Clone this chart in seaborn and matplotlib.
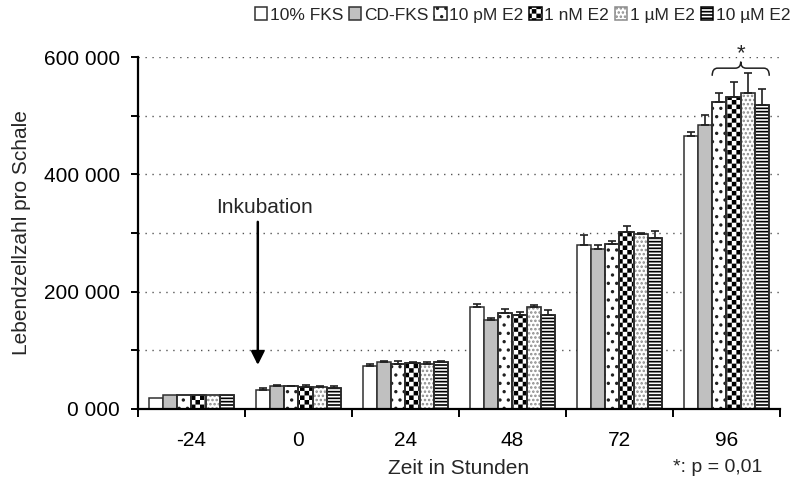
import numpy as np
import pandas as pd
import matplotlib
matplotlib.use("Agg")
import matplotlib.pyplot as plt
import matplotlib.hatch as mhatch
from matplotlib.path import Path
from matplotlib.patches import PathPatch, Rectangle
from matplotlib.ticker import FuncFormatter, MultipleLocator
import seaborn as sns

# ---- data -------------------------------------------------------------
zeiten = ["-24", "0", "24", "48", "72", "96"]
gruppen = ["10% FKS", "CD-FKS", "10 pM E2", "1 nM E2", "1 µM E2", "10 µM E2"]

fks_10 = [18000, 33000, 74000, 173000, 279000, 465000]
cd_fks = [24000, 39000, 80500, 152000, 273000, 484000]
e2_10pm = [24000, 38500, 77500, 164000, 281000, 523000]
e2_1nm = [24000, 37000, 78500, 161000, 301000, 531000]
e2_1um = [24000, 37000, 77500, 174000, 298000, 538000]
e2_10um = [24000, 35500, 79500, 160000, 291000, 518000]

err_fks_10 = [0, 3500, 2500, 6500, 18000, 7500]
err_cd_fks = [0, 2000, 1500, 2500, 7000, 17500]
err_e2_10pm = [0, 1500, 4000, 6000, 6000, 15000]
err_e2_1nm = [0, 4000, 2000, 4000, 11000, 26500]
err_e2_1um = [0, 2500, 2000, 4000, 2000, 34500]
err_e2_10um = [0, 4000, 2000, 8500, 12000, 27500]

werte = [fks_10, cd_fks, e2_10pm, e2_1nm, e2_1um, e2_10um]
fehler = [err_fks_10, err_cd_fks, err_e2_10pm, err_e2_1nm, err_e2_1um, err_e2_10um]

# significance bracket over the 96 h treatment bars
klammer_unten = 568000
klammer_oben = 581000
klammer_spitze = 592000
stern_hoehe = 606000

# ---- styling ------------------------------------------------------------
sns.set_theme(style="ticks")
plt.rcParams["font.family"] = ["Liberation Sans", "DejaVu Sans"]
plt.rcParams["hatch.linewidth"] = 1.2
FS = 15
FS_LEG = 12.5


class CheckerHatch(mhatch.HatchPatternBase):
    """Filled checkerboard hatch, selected by the 'O' hatch character."""

    def __init__(self, hatch, density):
        n = hatch.count("O")
        self.cells = 2 * int(round(1.8 * density)) * n
        self.num_vertices = (self.cells * self.cells // 2) * 5

    def set_vertices_and_codes(self, vertices, codes):
        c = self.cells
        step = 1.0 / c
        # shrink each square by half a hatch stroke width (tile = 100 px)
        lw_px = plt.rcParams["hatch.linewidth"] * 100 / 72
        s = (lw_px / 2) / 100
        k = 0
        for i in range(c):
            for j in range(c):
                if (i + j) % 2:
                    continue
                x0, y0 = i * step + s, j * step + s
                x1, y1 = (i + 1) * step - s, (j + 1) * step - s
                vertices[k:k + 5] = [(x0, y0), (x1, y0), (x1, y1), (x0, y1), (x0, y0)]
                codes[k:k + 5] = [Path.MOVETO, Path.LINETO, Path.LINETO,
                                  Path.LINETO, Path.CLOSEPOLY]
                k += 5


mhatch._hatch_types[:] = [CheckerHatch if t is mhatch.LargeCircles else t
                          for t in mhatch._hatch_types]

farben = ["white", "#c0c0c0", "white", "white", "white", "white"]
muster = ["", "", "..", "O", "....", "-----"]
# hatch colour per series (hatch follows the patch edge colour)
musterfarbe = ["#303030", "#303030", "#202020", "black", "#8a8a8a", "black"]
rand = "#303030"

# ---- table for seaborn ---------------------------------------------------
df = pd.DataFrame(
    [(z, g, w) for g, reihe in zip(gruppen, werte) for z, w in zip(zeiten, reihe)],
    columns=["Zeit", "Behandlung", "Zellzahl"],
)

fig = plt.figure(figsize=(7.92, 4.82), dpi=100)
ax = fig.add_axes([0.1742, 0.1515, 0.8106, 0.7302])

sns.barplot(
    data=df, x="Zeit", y="Zellzahl", hue="Behandlung",
    order=zeiten, hue_order=gruppen, palette=farben, saturation=1,
    errorbar=None, edgecolor=rand, linewidth=1.1, width=0.8,
    legend=False, ax=ax,
)
balken = list(ax.containers)

for cont, h, hc in zip(balken, muster, musterfarbe):
    for p in cont.patches:
        p.set_hatch(h)
        p.set_edgecolor(hc)
        if hc != rand:
            # dark outline on top of the coloured hatch
            ax.add_patch(Rectangle(p.get_xy(), p.get_width(), p.get_height(),
                                   fill=False, edgecolor=rand, linewidth=1.1,
                                   zorder=p.get_zorder() + 0.01))

# one-sided error bars
for cont, errs in zip(balken, fehler):
    xs, ys, es = [], [], []
    for p, e in zip(cont.patches, errs):
        if e > 0:
            xs.append(p.get_x() + p.get_width() / 2)
            ys.append(p.get_height())
            es.append(e)
    ax.errorbar(xs, ys, yerr=[np.zeros(len(es)), es], fmt="none",
                ecolor="#202020", elinewidth=1.2, capsize=3.2, capthick=1.2,
                zorder=3)

# ---- axes ---------------------------------------------------------------
ax.set_xlim(-0.5, len(zeiten) - 0.5)
ax.set_ylim(0, 600000)
ax.yaxis.set_major_locator(MultipleLocator(100000))
ax.yaxis.set_major_formatter(
    FuncFormatter(lambda v, _: f"{int(round(v / 1000))} 000" if round(v) % 200000 == 0 else "")
)
ax.set_xticks(np.arange(-0.5, len(zeiten), 1.0), minor=True)
ax.tick_params(axis="x", which="major", length=0, pad=16, labelsize=FS, colors="black")
ax.tick_params(axis="x", which="minor", length=6, width=1.4, direction="out", color="black")
ax.tick_params(axis="y", which="major", length=5, width=1.4, direction="out",
               labelsize=FS, colors="black", pad=8)

ax.grid(axis="y", linestyle=(0, (1, 4)), color="#555555", linewidth=1.0)
ax.grid(axis="x", visible=False)
ax.set_axisbelow(True)
sns.despine(ax=ax)
for sp in ("left", "bottom"):
    ax.spines[sp].set_linewidth(1.6)
    ax.spines[sp].set_color("black")

ax.set_xlabel("Zeit in Stunden", fontsize=FS)
ax.set_ylabel("Lebendzellzahl pro Schale", fontsize=FS)
ax.xaxis.set_label_coords(0.5, -0.143)
ax.yaxis.set_label_coords(-0.166, 0.5)

# ---- annotations ----------------------------------------------------------
ax.annotate(
    "", xy=(0.62, 75000), xytext=(0.62, 319000),
    arrowprops=dict(arrowstyle="-|>", color="black", lw=1.8, mutation_scale=20,
                    shrinkA=0, shrinkB=0),
)
ax.text(0.687, 344000, "Inkubation", ha="center", va="center", fontsize=FS)

# curly bracket from the 10 pM bar to the 10 µM bar at 96 h
li = balken[2].patches[-1]
re = balken[5].patches[-1]
x0 = li.get_x()
x1 = re.get_x() + re.get_width()
xm = (x0 + x1) / 2
r = 0.05
verts = [
    (x0, klammer_unten), (x0, klammer_oben), (x0 + r, klammer_oben),
    (xm - r, klammer_oben), (xm, klammer_oben), (xm, klammer_spitze),
    (xm, klammer_oben), (xm + r, klammer_oben),
    (x1 - r, klammer_oben), (x1, klammer_oben), (x1, klammer_unten),
]
codes = [Path.MOVETO, Path.CURVE3, Path.CURVE3,
         Path.LINETO, Path.CURVE3, Path.CURVE3,
         Path.CURVE3, Path.CURVE3,
         Path.LINETO, Path.CURVE3, Path.CURVE3]
ax.add_patch(PathPatch(Path(verts, codes), facecolor="none", edgecolor="#202020",
                       lw=1.1, clip_on=False, zorder=4))
ax.text(xm, stern_hoehe, "*", ha="center", va="center", fontsize=FS + 1,
        clip_on=False)

fig.text(0.9066, 0.031, "*: p = 0,01", ha="center", va="center", fontsize=14)

# ---- legend ---------------------------------------------------------------
handles = [c.patches[0] for c in balken]
fig.legend(
    handles, gruppen, loc="center right", bbox_to_anchor=(0.9975, 0.969), ncol=6,
    frameon=False, fontsize=FS_LEG, handlelength=0.7, handleheight=0.7,
    handletextpad=0.15, columnspacing=0.35, borderaxespad=0, borderpad=0,
)

fig.savefig("out.png", dpi=100)
